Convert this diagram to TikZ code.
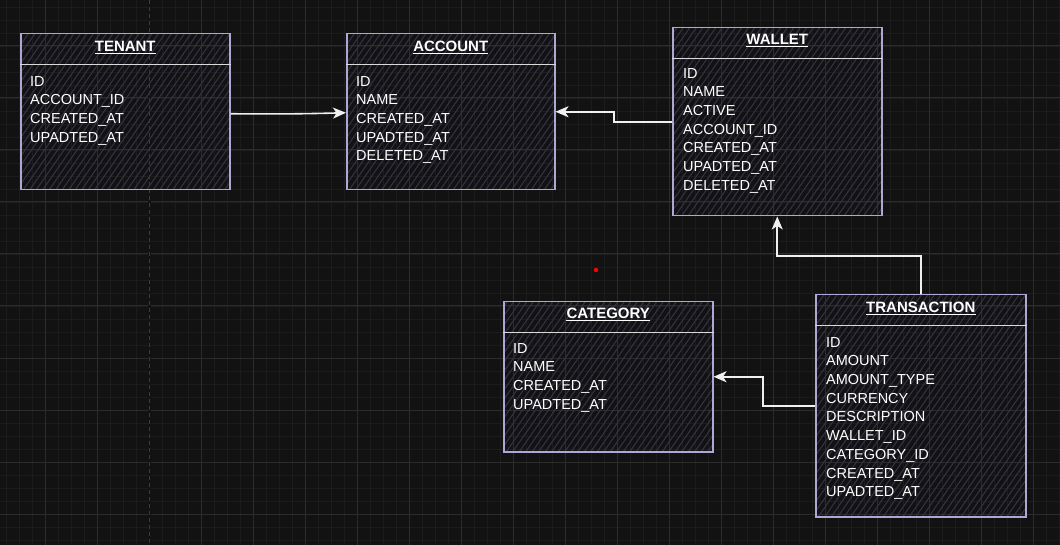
\documentclass[tikz,border=0pt]{standalone}
\usepackage{fontspec}
\setmainfont{Liberation Sans}
\usetikzlibrary{arrows.meta}
\definecolor{bg}{HTML}{121212}
\definecolor{minorc}{HTML}{1C1C1C}
\definecolor{majorc}{HTML}{2C2C2C}
\definecolor{dashc}{HTML}{3C3C3C}
\definecolor{boxc}{HTML}{ADA8D4}
\definecolor{hatchc}{HTML}{333146}
\definecolor{divc}{HTML}{DADADA}
\definecolor{connc}{HTML}{F0F0F0}
\begin{document}
\begin{tikzpicture}[x=1pt,y=-1pt,
  minorgrid/.style={draw=minorc,line width=0.8pt},
  majorgrid/.style={draw=majorc,line width=1pt},
  hatchline/.style={draw=hatchc,line width=1.1pt},
  erbox/.style={draw=boxc,line width=1.5pt,inner sep=0pt,anchor=north west,
    path picture={\foreach \k in {0,...,62}{\draw[hatchline] ([xshift=\k*6.5pt-160pt]path picture bounding box.south west) -- ++(200pt,286pt);}}},
  divider/.style={draw=divc,line width=1.3pt},
  title/.style={font=\fontsize{15}{18}\selectfont\bfseries,text=white,inner sep=0pt,anchor=base},
  ul/.style={draw=white,line width=1pt},
  fields/.style={font=\fontsize{14.5}{18.7}\selectfont,text=white,inner sep=0pt,align=left,anchor=north west},
  conn/.style={draw=connc,line width=1.6pt,-{Stealth[length=13pt,width=11pt,inset=3.5pt]}}
]
\fill[bg] (0,0) rectangle (1060,545);
\useasboundingbox (0,0) rectangle (1060,545);
% grid
\foreach \x in {6,19,...,1060} \draw[minorgrid] (\x,0) -- (\x,545);
\foreach \y in {7,20,...,545} \draw[minorgrid] (0,\y) -- (1060,\y);
\foreach \x in {45,97,...,1060} \draw[majorgrid] (\x,0) -- (\x,545);
\foreach \y in {46,98,...,545} \draw[majorgrid] (0,\y) -- (1060,\y);
\fill[bg] (148,0) rectangle (151,545);
\draw[dashc,line width=1.2pt,dash pattern=on 4pt off 3pt] (149.5,0) -- (149.5,545);

% boxes
\node[erbox,minimum width=209pt,minimum height=156pt] (tenant) at (20,33) {};
\node[erbox,minimum width=208pt,minimum height=156pt] (account) at (346,33) {};
\node[erbox,minimum width=209pt,minimum height=188pt] (wallet) at (672,27) {};
\node[erbox,minimum width=209pt,minimum height=150pt] (category) at (503,301) {};
\node[erbox,minimum width=210pt,minimum height=222pt] (transaction) at (815,294) {};

% dividers
\foreach \b in {tenant,account,wallet,category,transaction}
  \draw[divider] ([yshift=-31.5pt]\b.north west) -- ([yshift=-31.5pt]\b.north east);

% titles
\node[title] (tenantT) at ([yshift=-18.7pt]tenant.north) {TENANT};
\node[title] (accountT) at ([yshift=-18.7pt]account.north) {ACCOUNT};
\node[title] (walletT) at ([yshift=-17.3pt]wallet.north) {WALLET};
\node[title] (categoryT) at ([yshift=-17.3pt]category.north) {CATEGORY};
\node[title] (transactionT) at ([yshift=-18.7pt]transaction.north) {TRANSACTION};
\foreach \t in {tenantT,accountT,walletT,categoryT,transactionT}
  \draw[ul] ([yshift=-2pt]\t.base west) -- ([yshift=-2pt]\t.base east);

% fields
\node[fields] (tenantF) at ([xshift=10pt,yshift=-43pt]tenant.north west)
  {ID\\ACCOUNT\_ID\\CREATED\_AT\\UPADTED\_AT};
\node[fields] (accountF) at ([xshift=10pt,yshift=-43pt]account.north west)
  {ID\\NAME\\CREATED\_AT\\UPADTED\_AT\\DELETED\_AT};
\node[fields] (walletF) at ([xshift=11pt,yshift=-41pt]wallet.north west)
  {ID\\NAME\\ACTIVE\\ACCOUNT\_ID\\CREATED\_AT\\UPADTED\_AT\\DELETED\_AT};
\node[fields] (categoryF) at ([xshift=10pt,yshift=-42pt]category.north west)
  {ID\\NAME\\CREATED\_AT\\UPADTED\_AT};
\node[fields] (transactionF) at ([xshift=11pt,yshift=-43pt]transaction.north west)
  {ID\\AMOUNT\\AMOUNT\_TYPE\\CURRENCY\\DESCRIPTION\\WALLET\_ID\\CATEGORY\_ID\\CREATED\_AT\\UPADTED\_AT};

% connectors
\draw[conn] ([yshift=-2pt]tenant.east) to[bend right=1] ([yshift=-1pt]account.west);
\draw[conn] (wallet.west) -- ++(-58,0) |- (account.east);
\draw[conn] (transaction.north) -- ++(0,-38) -| (wallet.south);
\draw[conn] (transaction.west) -- ++(-52,0) |- (category.east);

% red dot
\node[circle,fill=red,inner sep=0pt,minimum size=4.5pt] (dot) at (596,270) {};
\end{tikzpicture}
\end{document}
